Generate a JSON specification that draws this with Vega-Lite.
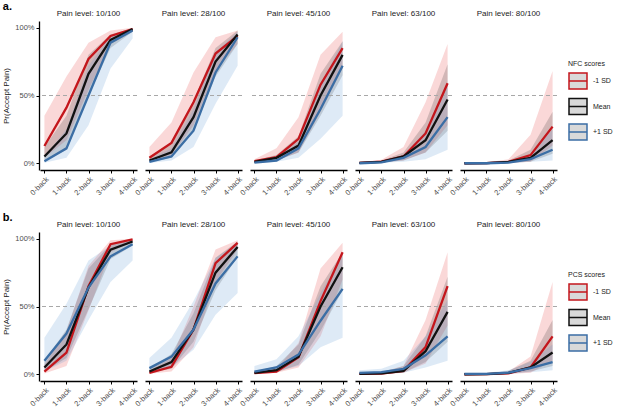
{
  "$schema": "https://vega.github.io/schema/vega-lite/v6.json",
  "padding": {"left": 2, "top": 1, "right": 0, "bottom": 0},
  "datasets": {
    "nfc": [
      {"pain": "10/100", "sd": "-1 SD", "nback": "0-back", "p": 12.7, "lo": 4, "hi": 35},
      {"pain": "10/100", "sd": "-1 SD", "nback": "1-back", "p": 41, "lo": 17, "hi": 64},
      {"pain": "10/100", "sd": "-1 SD", "nback": "2-back", "p": 77, "lo": 54, "hi": 89},
      {"pain": "10/100", "sd": "-1 SD", "nback": "3-back", "p": 94, "lo": 88, "hi": 98},
      {"pain": "10/100", "sd": "-1 SD", "nback": "4-back", "p": 99, "lo": 97, "hi": 100},
      {"pain": "10/100", "sd": "Mean", "nback": "0-back", "p": 5, "lo": 1.5, "hi": 12},
      {"pain": "10/100", "sd": "Mean", "nback": "1-back", "p": 22, "lo": 10, "hi": 35},
      {"pain": "10/100", "sd": "Mean", "nback": "2-back", "p": 66, "lo": 50, "hi": 80},
      {"pain": "10/100", "sd": "Mean", "nback": "3-back", "p": 91, "lo": 85, "hi": 95},
      {"pain": "10/100", "sd": "Mean", "nback": "4-back", "p": 99, "lo": 97, "hi": 99.7},
      {"pain": "10/100", "sd": "+1 SD", "nback": "0-back", "p": 1.5, "lo": 0.3, "hi": 5},
      {"pain": "10/100", "sd": "+1 SD", "nback": "1-back", "p": 11, "lo": 4, "hi": 25},
      {"pain": "10/100", "sd": "+1 SD", "nback": "2-back", "p": 50, "lo": 28, "hi": 72},
      {"pain": "10/100", "sd": "+1 SD", "nback": "3-back", "p": 89, "lo": 70, "hi": 94},
      {"pain": "10/100", "sd": "+1 SD", "nback": "4-back", "p": 98, "lo": 92, "hi": 99.5},
      {"pain": "28/100", "sd": "-1 SD", "nback": "0-back", "p": 4, "lo": 1, "hi": 12},
      {"pain": "28/100", "sd": "-1 SD", "nback": "1-back", "p": 15, "lo": 6, "hi": 30},
      {"pain": "28/100", "sd": "-1 SD", "nback": "2-back", "p": 45, "lo": 28, "hi": 67},
      {"pain": "28/100", "sd": "-1 SD", "nback": "3-back", "p": 81, "lo": 68, "hi": 93},
      {"pain": "28/100", "sd": "-1 SD", "nback": "4-back", "p": 94, "lo": 88, "hi": 98},
      {"pain": "28/100", "sd": "Mean", "nback": "0-back", "p": 2, "lo": 1, "hi": 5},
      {"pain": "28/100", "sd": "Mean", "nback": "1-back", "p": 8, "lo": 4, "hi": 14},
      {"pain": "28/100", "sd": "Mean", "nback": "2-back", "p": 34, "lo": 24, "hi": 46},
      {"pain": "28/100", "sd": "Mean", "nback": "3-back", "p": 75, "lo": 64, "hi": 85},
      {"pain": "28/100", "sd": "Mean", "nback": "4-back", "p": 95, "lo": 88, "hi": 98},
      {"pain": "28/100", "sd": "+1 SD", "nback": "0-back", "p": 1, "lo": 0.2, "hi": 3},
      {"pain": "28/100", "sd": "+1 SD", "nback": "1-back", "p": 5, "lo": 2, "hi": 11},
      {"pain": "28/100", "sd": "+1 SD", "nback": "2-back", "p": 24, "lo": 12, "hi": 40},
      {"pain": "28/100", "sd": "+1 SD", "nback": "3-back", "p": 67, "lo": 44, "hi": 82},
      {"pain": "28/100", "sd": "+1 SD", "nback": "4-back", "p": 93, "lo": 72, "hi": 97},
      {"pain": "45/100", "sd": "-1 SD", "nback": "0-back", "p": 1.5, "lo": 0.8, "hi": 3},
      {"pain": "45/100", "sd": "-1 SD", "nback": "1-back", "p": 4.5, "lo": 2, "hi": 11},
      {"pain": "45/100", "sd": "-1 SD", "nback": "2-back", "p": 18, "lo": 8, "hi": 34},
      {"pain": "45/100", "sd": "-1 SD", "nback": "3-back", "p": 58, "lo": 38, "hi": 80},
      {"pain": "45/100", "sd": "-1 SD", "nback": "4-back", "p": 85, "lo": 70, "hi": 97},
      {"pain": "45/100", "sd": "Mean", "nback": "0-back", "p": 1, "lo": 0.5, "hi": 2},
      {"pain": "45/100", "sd": "Mean", "nback": "1-back", "p": 4, "lo": 2, "hi": 6},
      {"pain": "45/100", "sd": "Mean", "nback": "2-back", "p": 13, "lo": 8, "hi": 20},
      {"pain": "45/100", "sd": "Mean", "nback": "3-back", "p": 50, "lo": 35, "hi": 66},
      {"pain": "45/100", "sd": "Mean", "nback": "4-back", "p": 80, "lo": 65, "hi": 90},
      {"pain": "45/100", "sd": "+1 SD", "nback": "0-back", "p": 0.5, "lo": 0.1, "hi": 1.5},
      {"pain": "45/100", "sd": "+1 SD", "nback": "1-back", "p": 2, "lo": 1, "hi": 4},
      {"pain": "45/100", "sd": "+1 SD", "nback": "2-back", "p": 11, "lo": 4, "hi": 16},
      {"pain": "45/100", "sd": "+1 SD", "nback": "3-back", "p": 40, "lo": 18, "hi": 58},
      {"pain": "45/100", "sd": "+1 SD", "nback": "4-back", "p": 72, "lo": 35, "hi": 90},
      {"pain": "63/100", "sd": "-1 SD", "nback": "0-back", "p": 0.3, "lo": 0, "hi": 0.8},
      {"pain": "63/100", "sd": "-1 SD", "nback": "1-back", "p": 1.2, "lo": 0.5, "hi": 2.5},
      {"pain": "63/100", "sd": "-1 SD", "nback": "2-back", "p": 5, "lo": 2, "hi": 12},
      {"pain": "63/100", "sd": "-1 SD", "nback": "3-back", "p": 22, "lo": 8, "hi": 45},
      {"pain": "63/100", "sd": "-1 SD", "nback": "4-back", "p": 59, "lo": 28, "hi": 88},
      {"pain": "63/100", "sd": "Mean", "nback": "0-back", "p": 0.2, "lo": 0, "hi": 0.5},
      {"pain": "63/100", "sd": "Mean", "nback": "1-back", "p": 1, "lo": 0.5, "hi": 2},
      {"pain": "63/100", "sd": "Mean", "nback": "2-back", "p": 5, "lo": 2, "hi": 8},
      {"pain": "63/100", "sd": "Mean", "nback": "3-back", "p": 17, "lo": 8, "hi": 30},
      {"pain": "63/100", "sd": "Mean", "nback": "4-back", "p": 47, "lo": 24, "hi": 73},
      {"pain": "63/100", "sd": "+1 SD", "nback": "0-back", "p": 0, "lo": 0, "hi": 0.3},
      {"pain": "63/100", "sd": "+1 SD", "nback": "1-back", "p": 0.7, "lo": 0.3, "hi": 1.5},
      {"pain": "63/100", "sd": "+1 SD", "nback": "2-back", "p": 4, "lo": 1, "hi": 6},
      {"pain": "63/100", "sd": "+1 SD", "nback": "3-back", "p": 12, "lo": 3, "hi": 24},
      {"pain": "63/100", "sd": "+1 SD", "nback": "4-back", "p": 34, "lo": 10, "hi": 60},
      {"pain": "80/100", "sd": "-1 SD", "nback": "0-back", "p": 0, "lo": 0, "hi": 0.3},
      {"pain": "80/100", "sd": "-1 SD", "nback": "1-back", "p": 0.1, "lo": 0, "hi": 0.5},
      {"pain": "80/100", "sd": "-1 SD", "nback": "2-back", "p": 1, "lo": 0.2, "hi": 3},
      {"pain": "80/100", "sd": "-1 SD", "nback": "3-back", "p": 6, "lo": 1, "hi": 21},
      {"pain": "80/100", "sd": "-1 SD", "nback": "4-back", "p": 27, "lo": 13, "hi": 68},
      {"pain": "80/100", "sd": "Mean", "nback": "0-back", "p": 0, "lo": 0, "hi": 0.2},
      {"pain": "80/100", "sd": "Mean", "nback": "1-back", "p": 0.1, "lo": 0, "hi": 0.4},
      {"pain": "80/100", "sd": "Mean", "nback": "2-back", "p": 1, "lo": 0.3, "hi": 2},
      {"pain": "80/100", "sd": "Mean", "nback": "3-back", "p": 4, "lo": 1, "hi": 10},
      {"pain": "80/100", "sd": "Mean", "nback": "4-back", "p": 17, "lo": 7, "hi": 38},
      {"pain": "80/100", "sd": "+1 SD", "nback": "0-back", "p": 0, "lo": 0, "hi": 0.1},
      {"pain": "80/100", "sd": "+1 SD", "nback": "1-back", "p": 0, "lo": 0, "hi": 0.3},
      {"pain": "80/100", "sd": "+1 SD", "nback": "2-back", "p": 0.5, "lo": 0, "hi": 1},
      {"pain": "80/100", "sd": "+1 SD", "nback": "3-back", "p": 3, "lo": 1, "hi": 6},
      {"pain": "80/100", "sd": "+1 SD", "nback": "4-back", "p": 10, "lo": 2, "hi": 25}
    ],
    "pcs": [
      {"pain": "10/100", "sd": "-1 SD", "nback": "0-back", "p": 2, "lo": 0.5, "hi": 7},
      {"pain": "10/100", "sd": "-1 SD", "nback": "1-back", "p": 16, "lo": 6, "hi": 32},
      {"pain": "10/100", "sd": "-1 SD", "nback": "2-back", "p": 65, "lo": 47, "hi": 80},
      {"pain": "10/100", "sd": "-1 SD", "nback": "3-back", "p": 96, "lo": 90, "hi": 99},
      {"pain": "10/100", "sd": "-1 SD", "nback": "4-back", "p": 99.5, "lo": 98, "hi": 100},
      {"pain": "10/100", "sd": "Mean", "nback": "0-back", "p": 5, "lo": 2, "hi": 10},
      {"pain": "10/100", "sd": "Mean", "nback": "1-back", "p": 22, "lo": 12, "hi": 33},
      {"pain": "10/100", "sd": "Mean", "nback": "2-back", "p": 64, "lo": 48, "hi": 78},
      {"pain": "10/100", "sd": "Mean", "nback": "3-back", "p": 92, "lo": 85, "hi": 96},
      {"pain": "10/100", "sd": "Mean", "nback": "4-back", "p": 98, "lo": 95, "hi": 99},
      {"pain": "10/100", "sd": "+1 SD", "nback": "0-back", "p": 10, "lo": 2, "hi": 27},
      {"pain": "10/100", "sd": "+1 SD", "nback": "1-back", "p": 30, "lo": 10, "hi": 52},
      {"pain": "10/100", "sd": "+1 SD", "nback": "2-back", "p": 64, "lo": 40, "hi": 84},
      {"pain": "10/100", "sd": "+1 SD", "nback": "3-back", "p": 87, "lo": 68, "hi": 95},
      {"pain": "10/100", "sd": "+1 SD", "nback": "4-back", "p": 96, "lo": 84, "hi": 99},
      {"pain": "28/100", "sd": "-1 SD", "nback": "0-back", "p": 1, "lo": 0.3, "hi": 3},
      {"pain": "28/100", "sd": "-1 SD", "nback": "1-back", "p": 5.5, "lo": 2, "hi": 12},
      {"pain": "28/100", "sd": "-1 SD", "nback": "2-back", "p": 33, "lo": 20, "hi": 50},
      {"pain": "28/100", "sd": "-1 SD", "nback": "3-back", "p": 82, "lo": 68, "hi": 92},
      {"pain": "28/100", "sd": "-1 SD", "nback": "4-back", "p": 97, "lo": 92, "hi": 99},
      {"pain": "28/100", "sd": "Mean", "nback": "0-back", "p": 2, "lo": 1, "hi": 4},
      {"pain": "28/100", "sd": "Mean", "nback": "1-back", "p": 9, "lo": 4, "hi": 15},
      {"pain": "28/100", "sd": "Mean", "nback": "2-back", "p": 33, "lo": 24, "hi": 45},
      {"pain": "28/100", "sd": "Mean", "nback": "3-back", "p": 75, "lo": 62, "hi": 86},
      {"pain": "28/100", "sd": "Mean", "nback": "4-back", "p": 94, "lo": 87, "hi": 98},
      {"pain": "28/100", "sd": "+1 SD", "nback": "0-back", "p": 4.5, "lo": 1, "hi": 12},
      {"pain": "28/100", "sd": "+1 SD", "nback": "1-back", "p": 13, "lo": 5, "hi": 27},
      {"pain": "28/100", "sd": "+1 SD", "nback": "2-back", "p": 33, "lo": 18, "hi": 54},
      {"pain": "28/100", "sd": "+1 SD", "nback": "3-back", "p": 67, "lo": 44, "hi": 86},
      {"pain": "28/100", "sd": "+1 SD", "nback": "4-back", "p": 87, "lo": 60, "hi": 97},
      {"pain": "45/100", "sd": "-1 SD", "nback": "0-back", "p": 0.8, "lo": 0.2, "hi": 2},
      {"pain": "45/100", "sd": "-1 SD", "nback": "1-back", "p": 2, "lo": 1, "hi": 4},
      {"pain": "45/100", "sd": "-1 SD", "nback": "2-back", "p": 12.5, "lo": 5, "hi": 23},
      {"pain": "45/100", "sd": "-1 SD", "nback": "3-back", "p": 54, "lo": 28, "hi": 78},
      {"pain": "45/100", "sd": "-1 SD", "nback": "4-back", "p": 90, "lo": 70, "hi": 97},
      {"pain": "45/100", "sd": "Mean", "nback": "0-back", "p": 1, "lo": 0.5, "hi": 2},
      {"pain": "45/100", "sd": "Mean", "nback": "1-back", "p": 3, "lo": 1.5, "hi": 6},
      {"pain": "45/100", "sd": "Mean", "nback": "2-back", "p": 13, "lo": 7, "hi": 22},
      {"pain": "45/100", "sd": "Mean", "nback": "3-back", "p": 50, "lo": 32, "hi": 65},
      {"pain": "45/100", "sd": "Mean", "nback": "4-back", "p": 79, "lo": 62, "hi": 90},
      {"pain": "45/100", "sd": "+1 SD", "nback": "0-back", "p": 2, "lo": 1, "hi": 6},
      {"pain": "45/100", "sd": "+1 SD", "nback": "1-back", "p": 5, "lo": 2, "hi": 11},
      {"pain": "45/100", "sd": "+1 SD", "nback": "2-back", "p": 14.5, "lo": 6, "hi": 28},
      {"pain": "45/100", "sd": "+1 SD", "nback": "3-back", "p": 39.5, "lo": 20, "hi": 60},
      {"pain": "45/100", "sd": "+1 SD", "nback": "4-back", "p": 63, "lo": 27, "hi": 88},
      {"pain": "63/100", "sd": "-1 SD", "nback": "0-back", "p": 0.2, "lo": 0, "hi": 0.5},
      {"pain": "63/100", "sd": "-1 SD", "nback": "1-back", "p": 0.5, "lo": 0.2, "hi": 1.5},
      {"pain": "63/100", "sd": "-1 SD", "nback": "2-back", "p": 2.5, "lo": 1, "hi": 6},
      {"pain": "63/100", "sd": "-1 SD", "nback": "3-back", "p": 20, "lo": 8, "hi": 40},
      {"pain": "63/100", "sd": "-1 SD", "nback": "4-back", "p": 65, "lo": 36, "hi": 90},
      {"pain": "63/100", "sd": "Mean", "nback": "0-back", "p": 0.2, "lo": 0, "hi": 0.5},
      {"pain": "63/100", "sd": "Mean", "nback": "1-back", "p": 0.7, "lo": 0.2, "hi": 1.5},
      {"pain": "63/100", "sd": "Mean", "nback": "2-back", "p": 2.5, "lo": 1, "hi": 6},
      {"pain": "63/100", "sd": "Mean", "nback": "3-back", "p": 17, "lo": 9, "hi": 28},
      {"pain": "63/100", "sd": "Mean", "nback": "4-back", "p": 46, "lo": 24, "hi": 72},
      {"pain": "63/100", "sd": "+1 SD", "nback": "0-back", "p": 1, "lo": 0.3, "hi": 3},
      {"pain": "63/100", "sd": "+1 SD", "nback": "1-back", "p": 1.5, "lo": 0.5, "hi": 4},
      {"pain": "63/100", "sd": "+1 SD", "nback": "2-back", "p": 4, "lo": 1, "hi": 10},
      {"pain": "63/100", "sd": "+1 SD", "nback": "3-back", "p": 14, "lo": 5, "hi": 28},
      {"pain": "63/100", "sd": "+1 SD", "nback": "4-back", "p": 28, "lo": 10, "hi": 55},
      {"pain": "80/100", "sd": "-1 SD", "nback": "0-back", "p": 0, "lo": 0, "hi": 0.3},
      {"pain": "80/100", "sd": "-1 SD", "nback": "1-back", "p": 0.1, "lo": 0, "hi": 0.5},
      {"pain": "80/100", "sd": "-1 SD", "nback": "2-back", "p": 0.7, "lo": 0.2, "hi": 2},
      {"pain": "80/100", "sd": "-1 SD", "nback": "3-back", "p": 5, "lo": 1, "hi": 13},
      {"pain": "80/100", "sd": "-1 SD", "nback": "4-back", "p": 28, "lo": 10, "hi": 68},
      {"pain": "80/100", "sd": "Mean", "nback": "0-back", "p": 0, "lo": 0, "hi": 0.3},
      {"pain": "80/100", "sd": "Mean", "nback": "1-back", "p": 0.1, "lo": 0, "hi": 0.5},
      {"pain": "80/100", "sd": "Mean", "nback": "2-back", "p": 1, "lo": 0.3, "hi": 2.5},
      {"pain": "80/100", "sd": "Mean", "nback": "3-back", "p": 5, "lo": 2, "hi": 10},
      {"pain": "80/100", "sd": "Mean", "nback": "4-back", "p": 16, "lo": 6, "hi": 40},
      {"pain": "80/100", "sd": "+1 SD", "nback": "0-back", "p": 0.2, "lo": 0, "hi": 1},
      {"pain": "80/100", "sd": "+1 SD", "nback": "1-back", "p": 0.3, "lo": 0, "hi": 1},
      {"pain": "80/100", "sd": "+1 SD", "nback": "2-back", "p": 1.2, "lo": 0.3, "hi": 3},
      {"pain": "80/100", "sd": "+1 SD", "nback": "3-back", "p": 4.5, "lo": 1.5, "hi": 9},
      {"pain": "80/100", "sd": "+1 SD", "nback": "4-back", "p": 9, "lo": 3, "hi": 22}
    ]
  },
  "vconcat": [
    {
      "title": {"text": "a."},
      "data": {"name": "nfc"},
      "facet": {
        "column": {"field": "pain", "type": "ordinal", "title": null,
          "header": {"labelExpr": "'Pain level: ' + datum.value"}}
      },
      "spacing": 6,
      "spec": {
        "width": 97,
        "height": 149,
        "layer": [
          {
            "mark": {"type": "area", "fillOpacity": 0.2},
            "encoding": {
              "x": {"field": "nback", "type": "ordinal", "scale": {"type": "point", "padding": 0.2}, "axis": {"title": null, "labelAngle": -45}},
              "y": {"field": "lo", "type": "quantitative", "scale": {"domain": [-5, 105], "nice": false, "zero": false},
                "axis": {"title": "Pr(Accept Pain)", "values": [0, 25, 50, 75, 100], "labelExpr": "datum.value + '%'"}},
              "y2": {"field": "hi"},
              "fill": {"field": "sd", "type": "nominal", "scale": {"domain": ["+1 SD", "Mean", "-1 SD"], "range": ["#5b95d0", "#333333", "#e53b3b"]}, "legend": null}
            }
          },
          {
            "mark": {"type": "rule", "strokeDash": [4, 3], "color": "#a8a8a8", "strokeWidth": 1},
            "encoding": {"y": {"datum": 50}}
          },
          {
            "mark": {"type": "line", "strokeWidth": 2.3},
            "encoding": {
              "x": {"field": "nback", "type": "ordinal"},
              "y": {"field": "p", "type": "quantitative"},
              "stroke": {"field": "sd", "type": "nominal", "title": "NFC scores",
                "scale": {"domain": ["-1 SD", "Mean", "+1 SD"], "range": ["#c4161c", "#111111", "#3b6ea5"]},
                "legend": {"orient": "none", "legendX": 528, "legendY": 39}}
            }
          }
        ]
      }
    },
    {
      "title": {"text": "b."},
      "data": {"name": "pcs"},
      "facet": {
        "column": {"field": "pain", "type": "ordinal", "title": null,
          "header": {"labelExpr": "'Pain level: ' + datum.value"}}
      },
      "spacing": 6,
      "spec": {
        "width": 97,
        "height": 149,
        "layer": [
          {
            "mark": {"type": "area", "fillOpacity": 0.2},
            "encoding": {
              "x": {"field": "nback", "type": "ordinal", "scale": {"type": "point", "padding": 0.2}, "axis": {"title": null, "labelAngle": -45}},
              "y": {"field": "lo", "type": "quantitative", "scale": {"domain": [-5, 105], "nice": false, "zero": false},
                "axis": {"title": "Pr(Accept Pain)", "values": [0, 25, 50, 75, 100], "labelExpr": "datum.value + '%'"}},
              "y2": {"field": "hi"},
              "fill": {"field": "sd", "type": "nominal", "scale": {"domain": ["+1 SD", "Mean", "-1 SD"], "range": ["#5b95d0", "#333333", "#e53b3b"]}, "legend": null}
            }
          },
          {
            "mark": {"type": "rule", "strokeDash": [4, 3], "color": "#a8a8a8", "strokeWidth": 1},
            "encoding": {"y": {"datum": 50}}
          },
          {
            "mark": {"type": "line", "strokeWidth": 2.3},
            "encoding": {
              "x": {"field": "nback", "type": "ordinal"},
              "y": {"field": "p", "type": "quantitative"},
              "stroke": {"field": "sd", "type": "nominal", "title": "PCS scores",
                "scale": {"domain": ["-1 SD", "Mean", "+1 SD"], "range": ["#c4161c", "#111111", "#3b6ea5"]},
                "legend": {"orient": "none", "legendX": 528, "legendY": 39}}
            }
          }
        ]
      }
    }
  ],
  "spacing": 15,
  "resolve": {
    "scale": {"stroke": "independent", "fill": "independent"},
    "legend": {"stroke": "independent"}
  },
  "config": {
    "font": "Liberation Sans",
    "view": {"stroke": null},
    "title": {"anchor": "start", "frame": "bounds", "fontSize": 11, "fontWeight": "bold", "offset": -2, "color": "#000000"},
    "header": {"labelFontSize": 8, "labelPadding": 3, "labelColor": "#1a1a1a"},
    "axis": {
      "grid": false, "domainColor": "#000000", "domainWidth": 1.3, "tickColor": "#000000", "tickSize": 3,
      "labelFontSize": 7.5, "labelColor": "#4d4d4d", "labelPadding": 2,
      "titleFontSize": 8, "titleFontWeight": "normal", "titleColor": "#1a1a1a", "titlePadding": 4
    },
    "legend": {
      "titleFontSize": 7, "titleFontWeight": "normal", "titleColor": "#1a1a1a", "titlePadding": 4,
      "labelFontSize": 7, "labelColor": "#1a1a1a", "labelOffset": 5,
      "symbolType": "M-1,-0.9H1V0.9H-1Z M-1,0H1", "symbolSize": 324, "symbolStrokeWidth": 1.5,
      "symbolFillColor": "#d9d9d9", "rowPadding": 1.5
    }
  }
}
